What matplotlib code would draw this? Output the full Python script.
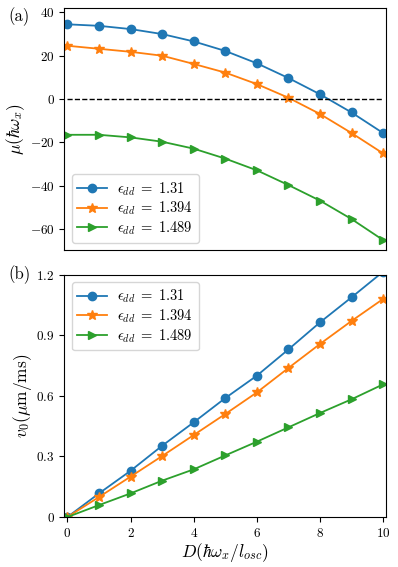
import matplotlib
matplotlib.use("Agg")
import matplotlib.pyplot as plt
from matplotlib.ticker import FuncFormatter

plt.rcParams["mathtext.fontset"] = "cm"
plt.rcParams["font.family"] = "serif"
plt.rcParams["font.serif"] = ["cmr10", "DejaVu Serif"]

D = [0, 1, 2, 3, 4, 5, 6, 7, 8, 9, 10]
labels = [r"$\epsilon_{dd}\;=\;\mathbf{1.31}$", r"$\epsilon_{dd}\;=\;\mathbf{1.394}$",
          r"$\epsilon_{dd}\;=\;\mathbf{1.489}$"]

# chemical potential, panel (a)
mu_131 = [34.5, 33.8, 32.3, 30.0, 26.6, 22.2, 16.5, 9.7, 2.2, -6.2, -15.7]
mu_1394 = [24.6, 23.2, 21.8, 20.0, 16.2, 12.2, 6.9, 0.6, -6.9, -15.7, -25.1]
mu_1489 = [-16.5, -16.5, -17.7, -19.7, -22.9, -27.5, -32.9, -39.7, -46.9, -55.4, -65.1]

# velocity, panel (b)
v_131 = [0.0, 0.117, 0.229, 0.353, 0.469, 0.589, 0.700, 0.830, 0.964, 1.088, 1.215]
v_1394 = [0.0, 0.099, 0.200, 0.302, 0.406, 0.510, 0.617, 0.738, 0.857, 0.971, 1.080]
v_1489 = [0.0, 0.059, 0.117, 0.180, 0.236, 0.305, 0.373, 0.444, 0.515, 0.583, 0.657]

colors = ["#1f77b4", "#ff7f0e", "#2ca02c"]
markers = ["o", "*", ">"]
msizes = [6, 7, 6]


def bold_fmt(v, pos):
    if abs(v - round(v)) < 1e-9:
        s = f"{int(round(v))}"
    else:
        s = f"{v:.1f}"
    return r"$\mathbf{" + s + "}$"


fig = plt.figure(figsize=(3.98, 5.67), dpi=100)
ax1 = fig.add_axes([0.1616, 0.559, 0.8074, 0.4264])
ax2 = fig.add_axes([0.1616, 0.0882, 0.8074, 0.4273])

for y, c, m, ms, lab in zip([mu_131, mu_1394, mu_1489], colors, markers, msizes, labels):
    ax1.plot(D, y, color=c, marker=m, markersize=ms, lw=1.3, label=lab)
ax1.hlines(0, 0, 10, colors="k", linestyles="--", lw=1.0)
ax1.set_xlim(-0.1, 10.08)
ax1.set_ylim(-69.7, 41.9)
ax1.set_yticks([40, 20, 0, -20, -40, -60])
ax1.set_xticks([])
ax1.yaxis.set_major_formatter(FuncFormatter(bold_fmt))
ax1.tick_params(labelsize=9.5, length=3.5)
ax1.set_ylabel(r"$\mu(\hbar\omega_x)$", fontsize=12.5, labelpad=2)
ax1.legend(loc="lower left", fontsize=10.5, handlelength=2.0, borderpad=0.4,
           labelspacing=0.15, handletextpad=0.7)
fig.text(0.02, 0.97, "(a)", fontsize=12, va="center")

for y, c, m, ms, lab in zip([v_131, v_1394, v_1489], colors, markers, msizes, labels):
    ax2.plot(D, y, color=c, marker=m, markersize=ms, lw=1.3, label=lab)
ax2.set_xlim(-0.1, 10.08)
ax2.set_ylim(0, 1.2)
ax2.set_yticks([0, 0.3, 0.6, 0.9, 1.2])
ax2.set_xticks([0, 2, 4, 6, 8, 10])
ax2.xaxis.set_major_formatter(FuncFormatter(bold_fmt))
ax2.yaxis.set_major_formatter(FuncFormatter(bold_fmt))
ax2.tick_params(labelsize=9.5, length=3.5)
ax2.set_ylabel(r"$v_0(\mu\mathrm{m/ms})$", fontsize=12.5, labelpad=2)
ax2.set_xlabel(r"$D(\hbar\omega_x/l_{osc})$", fontsize=12.5, labelpad=1)
ax2.legend(loc="upper left", fontsize=10.5, handlelength=2.0, borderpad=0.4,
           labelspacing=0.15, handletextpad=0.7)
fig.text(0.02, 0.515, "(b)", fontsize=12, va="center")

fig.savefig("out.png", dpi=100)
